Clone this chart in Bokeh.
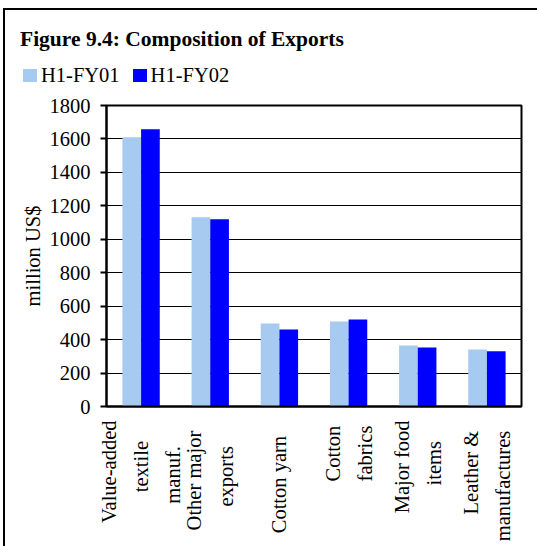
import math
from bokeh.plotting import figure
from bokeh.models import FactorRange, ColumnDataSource, FixedTicker, Div
from bokeh.layouts import column
from bokeh.transform import dodge
from bokeh.embed import file_html
from bokeh.resources import INLINE

categories = ["Value-added\ntextile\nmanuf.", "Other major\nexports", "Cotton yarn",
              "Cotton\nfabrics", "Major food\nitems", "Leather &\nmanufactures"]
fy01 = [1610, 1131, 497, 509, 365, 341]
fy02 = [1658, 1120, 460, 521, 353, 330]
series_names = ["H1-FY01", "H1-FY02"]
y_ticks = [0, 200, 400, 600, 800, 1000, 1200, 1400, 1600, 1800]
title_text = "Figure 9.4: Composition of Exports"

FONT = "Liberation Serif"
FS = "20.5px"
LIGHT = "#A6CAF0"
DARK = "#0000FF"

# style only: trailing no-break spaces that centre each label line like the original
line_pad = [[0, 4, 5], [2, 5], [3], [1, 1], [0, 4], [2, 2]]
NBSP = "\u00a0"
factors = ["\n".join(line + NBSP * n for line, n in zip(c.split("\n"), pads))
           for c, pads in zip(categories, line_pad)]

src = ColumnDataSource(dict(cat=factors, a=fy01, b=fy02))

p = figure(x_range=FactorRange(*factors), y_range=(0, 1800), title=None,
           width=532, height=451, output_backend="svg", toolbar_location=None,
           min_border_left=101, min_border_right=16, min_border_top=10, min_border_bottom=140)

r1 = p.vbar(x=dodge("cat", -0.135, range=p.x_range), top="a", width=0.27, source=src,
            fill_color=LIGHT, line_color=None)
r2 = p.vbar(x=dodge("cat", 0.135, range=p.x_range), top="b", width=0.27, source=src,
            fill_color=DARK, line_color=None)

p.outline_line_color = "black"
p.outline_line_width = 2
p.xgrid.grid_line_color = None
p.ygrid.grid_line_color = "black"
p.ygrid.grid_line_width = 1
p.ygrid.ticker = FixedTicker(ticks=y_ticks)

p.yaxis.ticker = FixedTicker(ticks=y_ticks)
p.yaxis.axis_label = "million US$"
p.yaxis.axis_label_text_font = FONT
p.yaxis.axis_label_text_font_size = FS
p.yaxis.axis_label_text_font_style = "normal"
p.yaxis.axis_label_text_color = "black"
p.yaxis.axis_label_standoff = 3
p.yaxis.major_label_text_font = FONT
p.yaxis.major_label_text_font_size = FS
p.yaxis.major_label_text_color = "black"
p.yaxis.major_tick_out = 6
p.yaxis.major_tick_in = 0
p.yaxis.major_tick_line_width = 2
p.yaxis.major_tick_line_color = "black"
p.yaxis.minor_tick_line_color = None
p.yaxis.axis_line_color = "black"
p.yaxis.axis_line_width = 2
p.yaxis.major_label_standoff = 10

p.xaxis.major_label_text_font = FONT
p.xaxis.major_label_text_font_size = FS
p.xaxis.major_label_text_color = "black"
p.xaxis.major_label_orientation = math.pi / 2
p.xaxis.major_label_text_line_height = 1.45
p.xaxis.major_tick_line_color = None
p.xaxis.minor_tick_line_color = None
p.xaxis.axis_line_color = "black"
p.xaxis.axis_line_width = 2
p.xaxis.major_label_standoff = 8

sq = "display:inline-block;width:14px;height:13px;vertical-align:baseline;"
html = (
    f"<div style=\"font-family:'{FONT}',serif;color:#000;padding-left:15px;\">"
    f"<div style=\"font-size:21.5px;font-weight:bold;line-height:24px;margin-top:17px;white-space:nowrap;\">{title_text}</div>"
    f"<div style=\"font-size:{FS};line-height:24px;margin-top:12px;padding-left:3px;white-space:nowrap;\">"
    f"<span style=\"{sq}background:{LIGHT};\"></span>"
    f"<span style=\"margin-left:4px;\">{series_names[0]}</span>"
    f"<span style=\"{sq}background:{DARK};margin-left:13px;\"></span>"
    f"<span style=\"margin-left:4px;\">{series_names[1]}</span>"
    f"</div></div>"
)
head = Div(text=html, width=532, height=85, margin=0)

layout = column(head, p, spacing=0)
layout.styles = {"margin-left": "3px", "margin-top": "8px",
                 "border-left": "2px solid black", "border-top": "2px solid black"}

open("out.html", "w").write(file_html(layout, INLINE))
